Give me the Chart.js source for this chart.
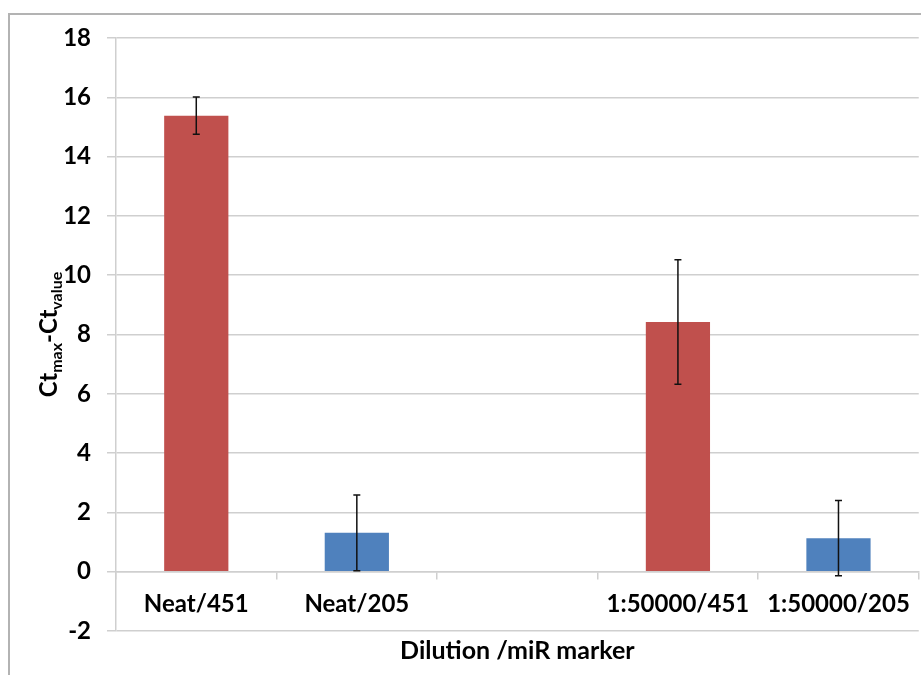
<!DOCTYPE html>
<html>
<head>
<meta charset="utf-8">
<script src="https://cdn.jsdelivr.net/npm/chart.js@4.4.1/dist/chart.umd.min.js"></script>
<style>
  html, body { margin: 0; padding: 0; background: #fff; }
  #wrap { position: relative; width: 921px; height: 675px; overflow: hidden; }
  #frame { position: absolute; left: 8px; top: 13px; width: 1000px; height: 1000px; border: 2px solid #b3b3b3; box-sizing: border-box; }
  canvas { position: absolute; left: 0; top: 0; }
</style>
</head>
<body>
<div id="wrap">
  <div id="frame"></div>
  <canvas id="c" width="921" height="675"></canvas>
</div>
<script>
// ---- data ----
const categories = ["Neat/451", "Neat/205", "", "1:50000/451", "1:50000/205"];
const values     = [15.38, 1.31, null, 8.42, 1.13];
const errors     = [0.63, 1.28, null, 2.1, 1.27];
const barColors  = ["#C0504D", "#4F81BD", "#C0504D", "#C0504D", "#4F81BD"];
const yTicks     = [-2, 0, 2, 4, 6, 8, 10, 12, 14, 16, 18];
const xTitle = "Dilution /miR marker";
const yTitleParts = [["Ct", false], ["max", true], ["-Ct", false], ["value", true]];

const FONT = "Lato, 'Open Sans', sans-serif";
const GRID = "#cfcfcf";

const errorBarPlugin = {
  id: "errorBars",
  afterDatasetsDraw(chart) {
    const ctx = chart.ctx;
    const xs = chart.scales.x, ys = chart.scales.y;
    ctx.save();
    ctx.strokeStyle = "#111";
    ctx.lineWidth = 1.5;
    values.forEach((v, i) => {
      if (v === null || errors[i] === null) return;
      const x = xs.getPixelForValue(i);
      const yt = ys.getPixelForValue(v + errors[i]);
      const yb = ys.getPixelForValue(v - errors[i]);
      ctx.beginPath();
      ctx.moveTo(x, yt); ctx.lineTo(x, yb);
      ctx.moveTo(x - 3.5, yt); ctx.lineTo(x + 3.5, yt);
      ctx.moveTo(x - 3.5, yb); ctx.lineTo(x + 3.5, yb);
      ctx.stroke();
    });
    ctx.restore();
  }
};

const titlesPlugin = {
  id: "axisTitles",
  afterDraw(chart) {
    const ctx = chart.ctx;
    const a = chart.chartArea;
    ctx.save();
    ctx.fillStyle = "#000";
    // x title
    ctx.font = "bold 25px " + FONT;
    ctx.textAlign = "center";
    ctx.textBaseline = "alphabetic";
    ctx.fillText(xTitle, (a.left + a.right) / 2, 659);
    // y title with subscripts
    const big = "bold 24px " + FONT, small = "bold 16px " + FONT;
    let total = 0;
    yTitleParts.forEach(([t, sub]) => { ctx.font = sub ? small : big; total += ctx.measureText(t).width; });
    ctx.translate(57, (a.top + a.bottom) / 2);
    ctx.rotate(-Math.PI / 2);
    ctx.textAlign = "left";
    let x = -total / 2;
    yTitleParts.forEach(([t, sub]) => {
      ctx.font = sub ? small : big;
      ctx.fillText(t, x, sub ? 5 : 0);
      x += ctx.measureText(t).width;
    });
    ctx.restore();
  }
};

new Chart(document.getElementById("c"), {
  type: "bar",
  data: {
    labels: categories,
    datasets: [{
      data: values,
      backgroundColor: barColors,
      borderWidth: 0,
      barPercentage: 0.4,
      categoryPercentage: 1.0
    }]
  },
  options: {
    responsive: false,
    animation: false,
    layout: { padding: { left: 0, right: 2, top: 38, bottom: 44 } },
    plugins: { legend: { display: false }, tooltip: { enabled: false }, title: { display: false } },
    scales: {
      x: {
        position: { y: 0 },
        offset: true,
        grid: { offset: true, drawOnChartArea: false, drawTicks: true, tickLength: 7, color: GRID, lineWidth: 1.5 },
        border: { display: true, color: GRID, width: 1.5 },
        ticks: { color: "#000", font: { family: FONT, size: 24, weight: "bold" }, padding: 11, maxRotation: 0, autoSkip: false }
      },
      y: {
        min: -2, max: 18,
        afterFit(s) { s.width = 116; },
        afterBuildTicks(s) { s.ticks = yTicks.map(v => ({ value: v })); },
        grid: { color: GRID, lineWidth: 1.5, tickLength: 9, drawTicks: true },
        border: { display: true, color: GRID, width: 1.5 },
        ticks: { color: "#000", font: { family: FONT, size: 24, weight: "bold" }, padding: 16 }
      }
    }
  },
  plugins: [errorBarPlugin, titlesPlugin]
});
</script>
</body>
</html>
